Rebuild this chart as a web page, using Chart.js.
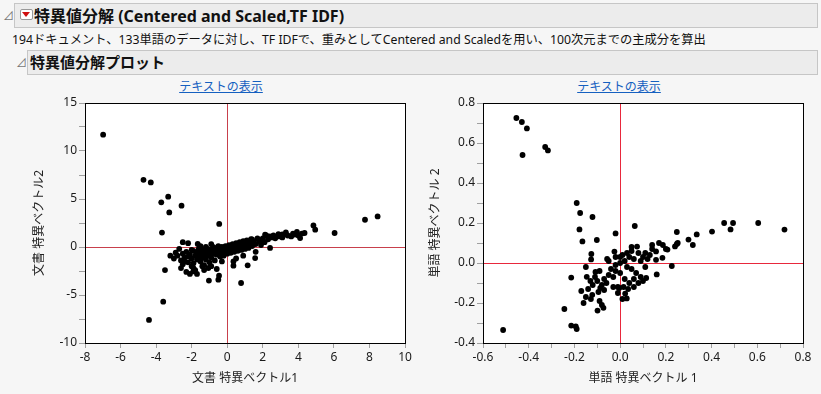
<!DOCTYPE html>
<html><head><meta charset="utf-8">
<script src="https://cdn.jsdelivr.net/npm/chart.js@4/dist/chart.umd.min.js"></script>
<style>
body{margin:0;width:821px;height:394px;background:#f6f6f6;overflow:hidden;position:relative;font-family:"Noto Sans","Noto Sans CJK JP",sans-serif;color:#111;}
.bar{position:absolute;background:#ececec;border:1px solid #c6c6c6;box-sizing:border-box;}
.t{position:absolute;white-space:nowrap;}
.tri{position:absolute;font-size:11px;color:#777;}
.link{position:absolute;font-size:12px;color:#1560c0;text-decoration:underline;white-space:nowrap;transform:translateX(-50%);}
canvas{position:absolute;}
</style></head><body>
<div class="bar" style="left:14px;top:3px;width:804px;height:25px;"></div>
<div class="tri" style="left:3px;top:7px;">⊿</div>
<div style="position:absolute;left:20px;top:9px;width:11px;height:9px;border:1px solid #999;background:#fff;border-radius:2px;"></div>
<div style="position:absolute;left:22px;top:12px;width:0;height:0;border-left:4px solid transparent;border-right:4px solid transparent;border-top:5px solid #d01010;"></div>
<div class="t" style="left:34px;top:3px;font-size:16px;font-weight:bold;">特異値分解 (Centered and Scaled,TF IDF)</div>
<div class="t" style="left:12px;top:30px;font-size:12.25px;">194ドキュメント、133単語のデータに対し、TF IDFで、重みとしてCentered and Scaledを用い、100次元までの主成分を算出</div>
<div class="bar" style="left:27px;top:50px;width:791px;height:25px;"></div>
<div class="tri" style="left:16px;top:54px;">⊿</div>
<div class="t" style="left:30px;top:51px;font-size:15px;font-weight:bold;">特異値分解プロット</div>
<div class="link" style="left:221px;top:77px;">テキストの表示</div>
<div class="link" style="left:619px;top:77px;">テキストの表示</div>
<canvas id="c1" width="420" height="314" style="left:0;top:80px;"></canvas>
<canvas id="c2" width="401" height="314" style="left:420px;top:80px;"></canvas>
<script>
// Document singular vectors (x = 文書 特異ベクトル1, y = 文書 特異ベクトル2)
const docPoints = [
[-6.98,11.7],[-4.71,7.0],[-4.30,6.73],[-3.32,5.24],[-3.71,4.65],[-2.57,4.3],[-3.26,3.6],[-0.45,2.4],[-3.67,1.5],[-3.5,-2.4],[-3.6,-5.7],[-4.4,-7.6],[0.78,-3.75],
[4.85,2.25],[4.95,1.8],[6.04,1.46],[7.75,2.84],[8.46,3.19],[4.35,1.46],[4.1,0.93],[3.92,1.56],[3.7,1.4],[3.3,1.52],[3.1,1.3],[2.88,1.35],[2.6,1.2],[2.4,1.1],[2.2,1.2],[2.13,1.28],[1.85,0.58],[2.41,-0.1],[1.57,-1.15],[1.15,-1.91],[0.35,-1.5],[0.35,-1.95],[-0.46,-2.99],[-0.59,-2.29],[-1.06,-2.19],[-1.91,-2.54],[1.34,0.83],
[-2.5,0.5],[-2.2,0.4],[-1.66,0.31],[-1.8,-2.4],[-1.03,-3.5],[-0.5,-3.4],[-2.2,-1.0],[-2.4,-1.5],[-2.6,-2.2],[-2.3,-2.6],[-2.0,-2.0],
[-3.0,-1.2],[-2.8,-0.9],[-2.6,-1.4],[-2.5,-0.7],[-2.4,-1.1],[-2.3,-0.5],[-2.2,-1.6],[-2.1,-0.8],[-2.0,-1.2],[-1.9,-0.4],[-1.9,-1.7],[-1.8,-0.9],[-1.7,-1.3],[-1.7,-0.6],[-1.6,-0.2],[-1.6,-1.0],[-1.5,-1.5],[-1.5,-0.7],[-1.4,-0.3],[-1.4,-1.1],[-1.3,-0.8],[-1.3,-1.9],[-1.2,-0.5],[-1.2,-1.3],[-1.1,-0.2],[-1.1,-0.9],[-1.0,-0.6],[-1.0,-1.6],[-0.9,-0.3],[-0.9,-1.1],[-0.8,-0.7],[-0.8,0.0],[-0.7,-0.4],[-0.7,-1.4],[-0.6,-0.1],[-0.6,-0.8],[-0.5,-0.5],[-0.5,0.1],[-0.4,-0.2],[-0.4,-1.0],[-0.3,-0.6],[-0.3,0.0],[-0.2,-0.3],[-0.2,-0.9],[-0.1,0.1],[-0.1,-0.4],[0.0,-0.1],[0.0,-0.7],[0.1,0.2],[0.1,-0.3],[0.2,0.0],[0.2,-0.6],[0.3,0.3],[0.3,-0.2],[0.4,0.1],[0.4,-0.5],[0.5,0.4],[0.5,-0.1],[0.6,0.2],[0.6,-0.4],[0.7,0.5],[0.7,0.0],[0.8,0.3],[0.8,-0.3],[0.9,0.6],[0.9,0.1],[1.0,0.4],[1.0,-0.2],[1.1,0.7],[1.1,0.2],[1.2,0.5],[1.2,-0.1],[1.3,0.3],[1.4,0.8],[1.4,0.1],[1.5,0.5],[1.6,0.3],[1.7,0.9],[1.8,0.6],[1.9,0.2],[2.0,0.9],[2.1,0.5],[2.3,0.8],[2.5,1.0],[2.7,0.9],[2.9,1.1],[3.1,1.0],[3.4,1.2],[3.6,1.1],[3.8,1.3],[4.0,1.2],[4.2,1.4],
[-2.7,-0.2],[-2.9,-0.6],[-3.2,-0.9],[-2.0,-0.3],[-1.5,0.1],[-1.2,0.0],[-0.9,0.3],[-2.5,-1.8],[-1.9,-2.2],[-1.4,-2.0],[-1.7,-2.8],[-2.1,-2.8],[-1.3,-2.4],[-0.9,-2.0],[-0.3,-1.5],[0.5,-1.2],[0.9,-0.9],[1.6,-0.5]
];
// Word singular vectors (x = 単語 特異ベクトル 1, y = 単語 特異ベクトル 2)
const wordPoints = [
[-0.454,0.725],[-0.43,0.705],[-0.408,0.673],[-0.427,0.54],[-0.328,0.58],[-0.316,0.563],[-0.19,0.30],[-0.121,0.23],[-0.175,0.25],[-0.178,0.168],[-0.165,0.108],[-0.102,0.115],[-0.02,0.148],[0.064,0.185],[-0.025,0.057],[-0.126,0.045],[-0.127,0.018],[-0.057,0.02],[-0.214,-0.073],[-0.146,-0.069],[-0.108,-0.045],[-0.244,-0.23],[-0.214,-0.313],[-0.194,-0.317],[-0.19,-0.33],[-0.512,-0.335],[-0.099,-0.238],[-0.073,-0.224],[-0.128,-0.18],[-0.122,-0.159],[0.029,-0.177],[0.022,-0.153],[-0.004,-0.125],[0.015,-0.12],[-0.01,-0.12],[-0.087,-0.125],[-0.095,-0.145],[-0.07,-0.135],[0.114,-0.075],[0.16,-0.057],[0.226,-0.015],[0.185,0.026],[0.157,0.016],[0.157,0.058],[0.207,0.067],[0.187,0.09],[0.24,0.083],[0.248,0.095],[0.252,0.10],[0.248,0.155],[0.299,0.117],[0.318,0.09],[0.335,0.143],[0.402,0.157],[0.455,0.2],[0.483,0.168],[0.494,0.2],[0.604,0.2],[0.719,0.167],[0.074,0.082],[0.05,0.06],
[0.08,0.05],[0.11,0.05],[0.1,0.03],[0.13,0.04],[0.06,0.02],[0.09,0.01],[0.12,0.02],[0.04,0.03],[0.02,0.01],[0.0,0.0],[-0.02,-0.01],[0.03,-0.02],[0.05,-0.03],[0.07,-0.05],[0.09,-0.07],[0.1,-0.09],[0.08,-0.1],[0.06,-0.12],[0.04,-0.1],[0.02,-0.08],[0.0,-0.05],[-0.02,-0.04],[-0.04,-0.03],[-0.05,-0.06],[-0.07,-0.08],[-0.06,-0.1],[-0.08,-0.11],[-0.1,-0.09],[-0.12,-0.11],[-0.14,-0.13],[-0.13,-0.09],[-0.11,-0.07],[-0.09,-0.04],[-0.15,-0.02],[-0.03,-0.12],[-0.01,-0.15],[0.01,-0.18],[0.06,-0.08],[0.11,-0.02],[0.14,0.07],[0.03,0.05],[-0.05,0.01],[0.0,0.03],[0.05,0.08],[0.2,0.07],[0.17,0.1],[0.14,0.09],[-0.15,-0.17],[-0.17,-0.14],[-0.16,-0.2],[-0.09,-0.19],[-0.08,-0.21],[0.035,-0.13],[-0.03,-0.07],[0.01,0.04],[-0.02,0.03]
];
// Tick values and labelled ticks
const docXTicks = [-8,-6,-4,-2,0,2,4,6,8,10];
const docXLabels = [-8,-6,-4,-2,0,2,4,6,8,10];
const docYTicks = [-10,-7.5,-5,-2.5,0,2.5,5,7.5,10,12.5,15];
const docYLabels = [-10,-5,0,5,10,15];
const wordXTicks = [-0.6,-0.5,-0.4,-0.3,-0.2,-0.1,0,0.1,0.2,0.3,0.4,0.5,0.6,0.7,0.8];
const wordXLabels = [-0.6,-0.4,-0.2,0,0.2,0.4,0.6,0.8];
const wordYTicks = [-0.4,-0.3,-0.2,-0.1,0,0.1,0.2,0.3,0.4,0.5,0.6,0.7,0.8];
const wordYLabels = [-0.4,-0.2,0,0.2,0.4,0.6,0.8];

Chart.defaults.font.family = '"Noto Sans","Noto Sans CJK JP",sans-serif';
Chart.defaults.font.size = 12;
Chart.defaults.color = '#1a1a1a';

function framePlugin(zeroColor){
  return {
    id:'frame',
    beforeDraw(chart){
      const a = chart.chartArea, ctx = chart.ctx;
      ctx.save(); ctx.fillStyle = '#ffffff';
      ctx.fillRect(a.left, a.top, a.right-a.left, a.bottom-a.top); ctx.restore();
    },
    beforeDatasetsDraw(chart){
      const a = chart.chartArea, ctx = chart.ctx;
      const x0 = Math.round(chart.scales.x.getPixelForValue(0)) + 0.5;
      const y0 = Math.round(chart.scales.y.getPixelForValue(0)) + 0.5;
      ctx.save(); ctx.strokeStyle = zeroColor; ctx.lineWidth = 1;
      ctx.beginPath(); ctx.moveTo(x0, a.top); ctx.lineTo(x0, a.bottom);
      ctx.moveTo(a.left, y0); ctx.lineTo(a.right, y0); ctx.stroke(); ctx.restore();
    },
    afterDraw(chart){
      const a = chart.chartArea, ctx = chart.ctx;
      ctx.save(); ctx.strokeStyle = '#000'; ctx.lineWidth = 1;
      ctx.strokeRect(Math.round(a.left)+0.5, Math.round(a.top)+0.5, Math.round(a.right-a.left), Math.round(a.bottom-a.top));
      ctx.restore();
    }
  };
}

function fmt(v, labels, dec){
  const hit = labels.some(l => Math.abs(l - v) < 1e-9);
  if (!hit) return '';
  return dec ? v.toFixed(dec) : String(v);
}

function makeChart(id, points, xTicks, xLabels, yTicks, yLabels, xMin, xMax, yMin, yMax, dec, xTitle, yTitle, yAxisW, padRight, yTitlePad, zeroColor){
  new Chart(document.getElementById(id), {
    type:'scatter',
    data:{datasets:[{data:points.map(p=>({x:p[0], y:p[1]})), pointRadius:2.9, pointHoverRadius:2.9, backgroundColor:'#000', borderWidth:0}]},
    options:{
      responsive:false, animation:false,
      layout:{padding:{top:23, right:padRight, left:0, bottom:0}},
      plugins:{legend:{display:false}, tooltip:{enabled:false}},
      scales:{
        x:{type:'linear', min:xMin, max:xMax,
          afterBuildTicks:s=>{ s.ticks = xTicks.map(v=>({value:v})); },
          afterFit:s=>{ s.height = 51; },
          ticks:{autoSkip:false, maxRotation:0, padding:2, callback:v=>fmt(v, xLabels, dec)},
          grid:{drawOnChartArea:false, drawTicks:true, tickLength:5, color:'#a0a0a0'},
          border:{display:true, color:'#000'},
          title:{display:true, text:xTitle, color:'#222', font:{size:12}, padding:{top:0, bottom:7.8}}
        },
        y:{type:'linear', min:yMin, max:yMax,
          afterBuildTicks:s=>{ s.ticks = yTicks.map(v=>({value:v})); },
          afterFit:s=>{ s.width = yAxisW; },
          ticks:{autoSkip:false, padding:2, callback:v=>fmt(v, yLabels, dec)},
          grid:{drawOnChartArea:false, drawTicks:true, tickLength:6, color:'#a0a0a0'},
          border:{display:true, color:'#000'},
          title:{display:true, text:yTitle, color:'#222', font:{size:12}, padding:{top:yTitlePad, bottom:0}}
        }
      }
    },
    plugins:[framePlugin(zeroColor)]
  });
}

makeChart('c1', docPoints, docXTicks, docXLabels, docYTicks, docYLabels, -8, 10, -10, 15, 0,
  '文書 特異ベクトル1', '文書 特異ベクトル2', 85, 15, 32.8, '#c8404c');
makeChart('c2', wordPoints, wordXTicks, wordXLabels, wordYTicks, wordYLabels, -0.6, 0.8, -0.4, 0.8, 1,
  '単語 特異ベクトル 1', '単語 特異ベクトル 2', 63, 18, 8.8, '#e8283c');
</script>
</body></html>
